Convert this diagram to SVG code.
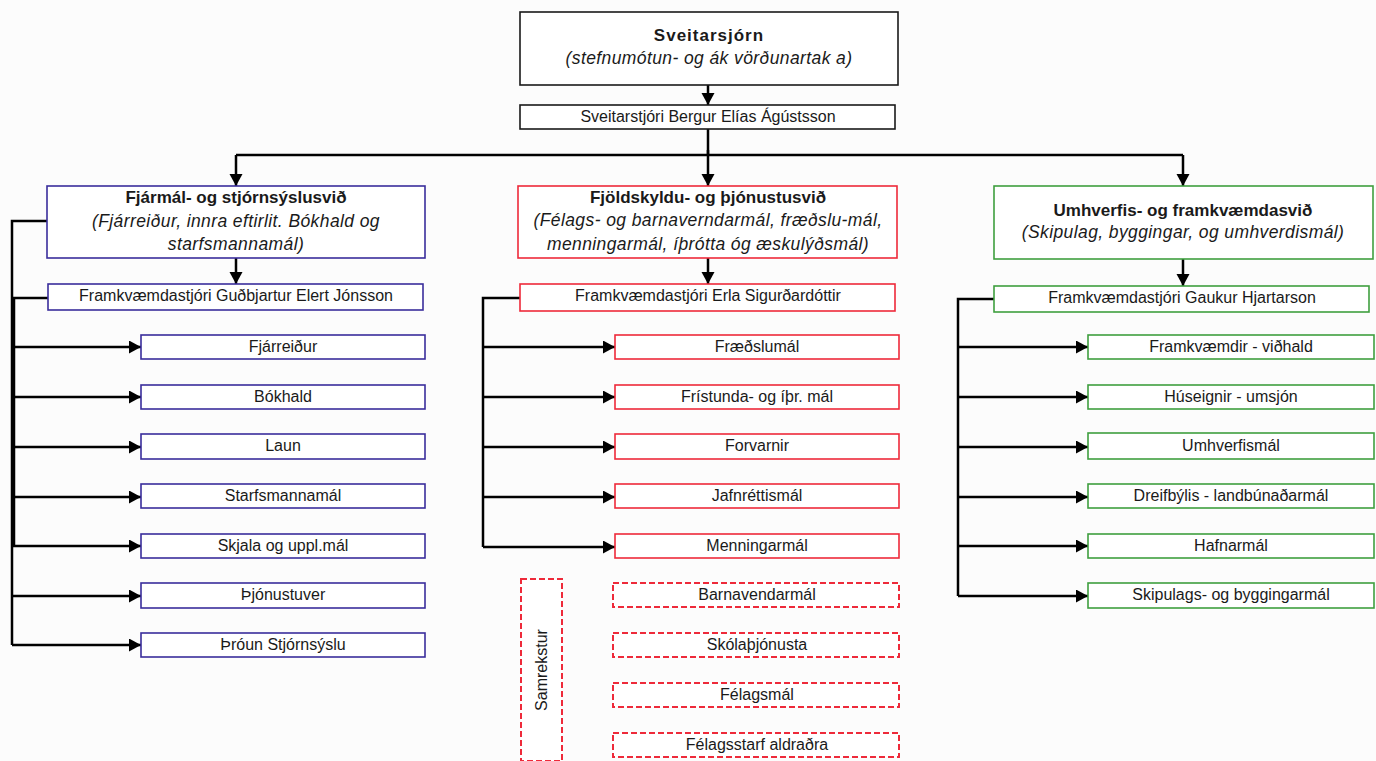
<svg xmlns="http://www.w3.org/2000/svg" width="1376" height="761" viewBox="0 0 1376 761">
<defs>
<marker id="arr" markerUnits="userSpaceOnUse" markerWidth="13" markerHeight="14" refX="12" refY="6.5" orient="auto">
<path d="M0,0 L12,6.5 L0,13 Z" fill="#000"/>
</marker>
<style>
.bg{fill:#fcfcfc}
text{font-family:"Liberation Sans",Arial,sans-serif;fill:#1a1a1a;text-anchor:middle}
.t{font-weight:bold;font-size:17px}
.i{font-style:italic;font-size:17.5px;letter-spacing:0.4px}
.s{font-size:16px}
.bk{fill:#fff;stroke:#1a1a1a;stroke-width:1.6}
.bl{fill:#fff;stroke:#3a2d9c;stroke-width:1.6}
.rd{fill:#fff;stroke:#ee2a3a;stroke-width:1.6}
.gr{fill:#fff;stroke:#3f9f3f;stroke-width:1.6}
.dash{fill:#fff;stroke:#ee2a3a;stroke-width:2;stroke-dasharray:6,3}
.c{fill:none;stroke:#000;stroke-width:2.5}
.a{fill:none;stroke:#000;stroke-width:2.5;marker-end:url(#arr)}
</style>
</defs>
<rect class="bg" x="0" y="0" width="1376" height="761"/>

<g id="connectors">
<path class="a" d="M708,85 V105"/>
<path class="c" d="M708,129 V155 M236,155 H1183"/>
<path class="a" d="M708,150 V186"/>
<path class="a" d="M236,155 V186"/>
<path class="a" d="M1183,155 V186"/>
<path class="a" d="M236,258 V284"/>
<path class="a" d="M708,258 V284"/>
<path class="a" d="M1183,259 V286"/>
<path class="c" d="M47,221 H12 V645 M48,298 H14 V547"/>
<path class="a" d="M12,347 H141"/>
<path class="a" d="M12,397 H141"/>
<path class="a" d="M12,447 H141"/>
<path class="a" d="M12,497 H141"/>
<path class="a" d="M12,546 H141"/>
<path class="a" d="M12,596 H141"/>
<path class="a" d="M12,645 H141"/>
<path class="c" d="M520,298 H483 V547"/>
<path class="a" d="M483,347 H615"/>
<path class="a" d="M483,397 H615"/>
<path class="a" d="M483,447 H615"/>
<path class="a" d="M483,497 H615"/>
<path class="a" d="M483,547 H615"/>
<path class="c" d="M994,299 H958 V596"/>
<path class="a" d="M958,347 H1088"/>
<path class="a" d="M958,397 H1088"/>
<path class="a" d="M958,447 H1088"/>
<path class="a" d="M958,497 H1088"/>
<path class="a" d="M958,546 H1088"/>
<path class="a" d="M958,596 H1088"/>
</g>

<g id="sveitarstjorn">
<rect class="bk" x="520" y="12" width="378" height="73"/>
<text class="t" x="709" y="41" style="letter-spacing:1px">Sveitarsjórn</text>
<text class="i" x="709" y="64">(stefnumótun- og ák vörðunartak a)</text>
</g>
<g id="sveitarstjori">
<rect class="bk" x="520" y="105" width="375" height="24"/>
<text class="s" x="708" y="122">Sveitarstjóri Bergur Elías Ágústsson</text>
</g>

<g id="fjarmal">
<rect class="bl" x="47" y="186" width="378" height="72"/>
<text class="t" x="236" y="203">Fjármál- og stjórnsýslusvið</text>
<text class="i" x="236" y="227">(Fjárreiður, innra eftirlit. Bókhald og</text>
<text class="i" x="236" y="250">starfsmannamál)</text>
</g>
<g id="fjarmal-stjori">
<rect class="bl" x="48" y="284" width="375" height="26"/>
<text class="s" x="236" y="301">Framkvæmdastjóri Guðbjartur Elert Jónsson</text>
</g>
<g id="fjarreidur"><rect class="bl" x="141" y="335" width="284" height="24"/><text class="s" x="283" y="352">Fjárreiður</text></g>
<g id="bokhald"><rect class="bl" x="141" y="385" width="284" height="24"/><text class="s" x="283" y="402">Bókhald</text></g>
<g id="laun"><rect class="bl" x="141" y="434" width="284" height="25"/><text class="s" x="283" y="451">Laun</text></g>
<g id="starfsmannamal"><rect class="bl" x="141" y="484" width="284" height="24"/><text class="s" x="283" y="501">Starfsmannamál</text></g>
<g id="skjala"><rect class="bl" x="141" y="534" width="284" height="24"/><text class="s" x="283" y="551">Skjala og uppl.mál</text></g>
<g id="thjonustuver"><rect class="bl" x="141" y="583" width="284" height="25"/><text class="s" x="283" y="600">Þjónustuver</text></g>
<g id="throun"><rect class="bl" x="141" y="633" width="284" height="24"/><text class="s" x="283" y="650">Þróun Stjórnsýslu</text></g>

<g id="fjolskyldu">
<rect class="rd" x="518" y="186" width="379" height="72"/>
<text class="t" x="708" y="203">Fjöldskyldu- og þjónustusvið</text>
<text class="i" x="708" y="226">(Félags- og barnaverndarmál, fræðslu-mál,</text>
<text class="i" x="708" y="250">menningarmál, íþrótta óg æskulýðsmál)</text>
</g>
<g id="fjolskyldu-stjori">
<rect class="rd" x="520" y="284" width="375" height="27"/>
<text class="s" x="708" y="301">Framkvæmdastjóri Erla Sigurðardóttir</text>
</g>
<g id="fraedslumal"><rect class="rd" x="615" y="335" width="284" height="24"/><text class="s" x="757" y="352">Fræðslumál</text></g>
<g id="fristunda"><rect class="rd" x="615" y="385" width="284" height="24"/><text class="s" x="757" y="402">Frístunda- og íþr. mál</text></g>
<g id="forvarnir"><rect class="rd" x="615" y="434" width="284" height="25"/><text class="s" x="757" y="451">Forvarnir</text></g>
<g id="jafnrettismal"><rect class="rd" x="615" y="484" width="284" height="24"/><text class="s" x="757" y="501">Jafnréttismál</text></g>
<g id="menningarmal"><rect class="rd" x="615" y="534" width="284" height="24"/><text class="s" x="757" y="551">Menningarmál</text></g>

<g id="samrekstur">
<rect class="dash" x="521" y="579" width="41" height="182"/>
<text class="s" x="0" y="0" transform="translate(547,670) rotate(-90)">Samrekstur</text>
</g>
<g id="barnavendarmal"><rect class="dash" x="613" y="583" width="286" height="24"/><text class="s" x="757" y="600">Barnavendarmál</text></g>
<g id="skolathjonusta"><rect class="dash" x="613" y="633" width="286" height="24"/><text class="s" x="757" y="650">Skólaþjónusta</text></g>
<g id="felagsmal"><rect class="dash" x="613" y="683" width="286" height="24"/><text class="s" x="757" y="700">Félagsmál</text></g>
<g id="felagsstarf"><rect class="dash" x="613" y="733" width="286" height="24"/><text class="s" x="757" y="750">Félagsstarf aldraðra</text></g>

<g id="umhverfis">
<rect class="gr" x="994" y="186" width="379" height="73"/>
<text class="t" x="1183" y="216">Umhverfis- og framkvæmdasvið</text>
<text class="i" x="1183" y="238">(Skipulag, byggingar, og umhverdismál)</text>
</g>
<g id="umhverfis-stjori">
<rect class="gr" x="994" y="286" width="375" height="26"/>
<text class="s" x="1182" y="303">Framkvæmdastjóri Gaukur Hjartarson</text>
</g>
<g id="framkvaemdir"><rect class="gr" x="1088" y="335" width="286" height="24"/><text class="s" x="1231" y="352">Framkvæmdir - viðhald</text></g>
<g id="huseignir"><rect class="gr" x="1088" y="385" width="286" height="24"/><text class="s" x="1231" y="402">Húseignir - umsjón</text></g>
<g id="umhverfismal"><rect class="gr" x="1088" y="433" width="286" height="26"/><text class="s" x="1231" y="451">Umhverfismál</text></g>
<g id="dreifbylis"><rect class="gr" x="1088" y="484" width="286" height="24"/><text class="s" x="1231" y="501">Dreifbýlis - landbúnaðarmál</text></g>
<g id="hafnarmal"><rect class="gr" x="1088" y="534" width="286" height="24"/><text class="s" x="1231" y="551">Hafnarmál</text></g>
<g id="skipulags"><rect class="gr" x="1088" y="583" width="286" height="25"/><text class="s" x="1231" y="600">Skipulags- og byggingarmál</text></g>
</svg>
